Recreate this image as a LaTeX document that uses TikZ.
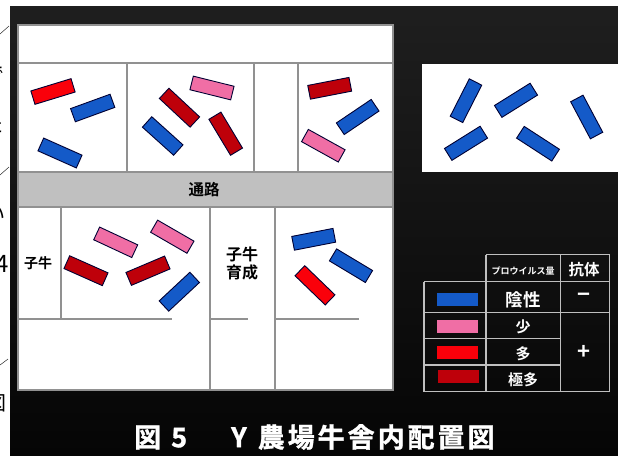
\documentclass[tikz,border=0pt]{standalone}
\usepackage{fontspec}
\newfontfamily\cjk[BoldFont={Noto Sans CJK JP Bold}]{Noto Sans CJK JP}
\usetikzlibrary{calc}
\definecolor{cowblue}{RGB}{20,90,200}
\definecolor{cowpink}{RGB}{240,110,165}
\definecolor{cowred}{RGB}{250,0,10}
\definecolor{cowdark}{RGB}{190,0,10}
\definecolor{wallgrey}{RGB}{145,145,145}
\definecolor{aislegrey}{RGB}{192,192,192}
\tikzset{
	cow/.style={draw=black!80!blue, line width=0.9pt, minimum width=42pt, minimum height=14pt, inner sep=0pt},
	wall/.style={draw=wallgrey, line width=2pt},
	grid/.style={draw=white!75!black, line width=1.3pt},
	swatch/.style={minimum width=41pt, minimum height=13pt, inner sep=0pt},
	lbl/.style={font=\cjk\bfseries, inner sep=0pt, text=black},
	cell/.style={font=\cjk\bfseries, inner sep=0pt, text=white},
	scrap/.style={font=\cjk, inner sep=0pt, text=black, anchor=east}
}
\begin{document}
\begin{tikzpicture}[x=1pt, y=-1pt]
	\useasboundingbox (0,0) rectangle (618,455);
	\fill[white] (0,0) rectangle (618,455);

	% page behind the slide
	\begin{scope}
	\clip (0,0) rectangle (10,455);
	\node[scrap, font=\cjk\fontsize{20}{20}\selectfont] (p1) at (5,75) {で};
	\node[scrap, font=\cjk\fontsize{20}{20}\selectfont] (p2) at (4,125) {た};
	\node[scrap, font=\cjk\fontsize{20}{20}\selectfont] (p3) at (6,215) {い};
	\node[scrap, font=\cjk\fontsize{24}{24}\selectfont] (p4) at (9,264) {4};
	\node[scrap, font=\cjk\fontsize{20}{20}\selectfont] (p5) at (7,403) {図};
	\coordinate (q1) at (0,34);
	\coordinate (q2) at (9,26);
	\coordinate (q3) at (0,175);
	\coordinate (q4) at (9,167);
	\coordinate (q5) at (0,365);
	\coordinate (q6) at (8,359);
	\draw[thin] (q1)--(q2);
	\draw[thin] (q3)--(q4);
	\draw[thin] (q5)--(q6);
	\end{scope}

	\shade[top color=black!88, bottom color=black!98] (10,6) rectangle (618,455);

	% barn
	\coordinate (TL) at (18,24.5);
	\coordinate (BR) at (393,390);
	\fill[white] (TL) rectangle (BR);
	\fill[aislegrey] (18,172) rectangle (393,207);
	\draw[wall] (TL) rectangle (BR);
	\draw[wall] (18,62.5)--(393,62.5);
	\draw[wall] (18,172)--(393,172);
	\draw[wall] (18,207)--(393,207);
	\draw[wall] (127,62.5)--(127,172);
	\draw[wall] (254,62.5)--(254,172);
	\draw[wall] (297.5,62.5)--(297.5,172);
	\draw[wall] (61,207)--(61,318.5);
	\draw[wall] (209.5,207)--(209.5,390);
	\draw[wall] (274.5,207)--(274.5,390);
	\draw[wall] (18,318.5)--(172,318.5);
	\draw[wall] (209.5,318.5)--(248,318.5);
	\draw[wall] (274.5,318.5)--(359,318.5);

	\node[lbl, font=\cjk\bfseries\fontsize{15.5}{15.5}\selectfont] (aisle) at (204,190) {通路};
	\node[lbl, font=\cjk\bfseries\fontsize{14}{14}\selectfont] (calf) at (38,263) {子牛};
	\node[lbl, font=\cjk\bfseries\fontsize{16}{18}\selectfont, align=center] (rearing) at (242,263.5) {子牛\\育成};

	% upper pens
	\node[cow, fill=cowred, rotate=17] (c1) at (53,91.5) {};
	\node[cow, fill=cowblue, rotate=20] (c2) at (92.7,108) {};
	\node[cow, fill=cowblue, rotate=-24] (c3) at (60,153) {};
	\node[cow, fill=cowdark, rotate=-43] (c4) at (179.5,107.7) {};
	\node[cow, fill=cowblue, rotate=-42] (c5) at (162.7,136) {};
	\node[cow, fill=cowpink, rotate=-14] (c6) at (212,88) {};
	\node[cow, fill=cowdark, rotate=-59] (c7) at (225.7,133.7) {};
	\node[cow, fill=cowdark, rotate=11] (c8) at (329.7,88.3) {};
	\node[cow, fill=cowblue, rotate=34] (c9) at (357.7,117) {};
	\node[cow, fill=cowpink, rotate=-29] (c10) at (323.3,145.7) {};

	% lower pens
	\node[cow, fill=cowpink, rotate=-25] (c11) at (115.7,242.3) {};
	\node[cow, fill=cowpink, rotate=-30] (c12) at (172.3,236.7) {};
	\node[cow, fill=cowdark, rotate=-24] (c13) at (86,270.7) {};
	\node[cow, fill=cowdark, rotate=23] (c14) at (148,270.7) {};
	\node[cow, fill=cowblue, rotate=43] (c15) at (179.3,291.7) {};
	\node[cow, fill=cowblue, rotate=11] (c16) at (313.7,239.3) {};
	\node[cow, fill=cowblue, rotate=-31] (c17) at (351,265.7) {};
	\node[cow, fill=cowred, rotate=-44] (c18) at (315,285.3) {};

	% side panel
	\fill[white] (422,64) rectangle (618,172);
	\node[cow, fill=cowblue, rotate=63] (s1) at (466,100.7) {};
	\node[cow, fill=cowblue, rotate=32] (s2) at (516,100.3) {};
	\node[cow, fill=cowblue, rotate=-62] (s3) at (586.7,117) {};
	\node[cow, fill=cowblue, rotate=32] (s4) at (466,143.3) {};
	\node[cow, fill=cowblue, rotate=-33] (s5) at (538,143.7) {};

	% legend
	\draw[grid] (486,254.7)--(609.5,254.7);
	\draw[grid] (424,281.7)--(609.5,281.7);
	\draw[grid] (424,312.3)--(609.5,312.3);
	\draw[grid] (424,338.3)--(560.7,338.3);
	\draw[grid] (424,365)--(560.7,365);
	\draw[grid] (424,391.7)--(609.5,391.7);
	\draw[grid] (424,281.7)--(424,391.7);
	\draw[grid] (486,254.7)--(486,391.7);
	\draw[grid] (560.7,254.7)--(560.7,391.7);
	\draw[grid] (609.5,254.7)--(609.5,391.7);
	\node[swatch, fill=cowblue] (k1) at (457.2,299.3) {};
	\node[swatch, fill=cowpink] (k2) at (457.2,326) {};
	\node[swatch, fill=cowred] (k3) at (457.2,352) {};
	\node[swatch, fill=cowdark] (k4) at (458,376.3) {};
	\node[cell, font=\cjk\bfseries\fontsize{9}{9}\selectfont] (hv) at (523,271) {プロウイルス量};
	\node[cell, font=\cjk\bfseries\fontsize{15.5}{15.5}\selectfont] (ha) at (584,270) {抗体};
	\node[cell, font=\cjk\bfseries\fontsize{17.5}{17.5}\selectfont] (v1) at (523,299.5) {陰性};
	\node[cell, font=\cjk\bfseries\fontsize{15}{15}\selectfont] (v2) at (523,327) {少};
	\node[cell, font=\cjk\bfseries\fontsize{15}{15}\selectfont] (v3) at (523,354) {多};
	\node[cell, font=\cjk\bfseries\fontsize{15}{15}\selectfont] (v4) at (523,380) {極多};
	\node[cell, font=\cjk\bfseries\fontsize{22}{22}\selectfont] (a1) at (584,298) {−};
	\node[cell, font=\cjk\bfseries\fontsize{22}{22}\selectfont] (a2) at (584,352) {+};

	% title
	\node[cell, anchor=west, font=\cjk\bfseries\fontsize{27}{27}\selectfont\addfontfeature{LetterSpace=11,FakeBold=1.2}] (title) at (134,437) {図\hspace{10pt}5\hspace{44pt}Y\hspace{11pt}農場牛舎内配置図};
\end{tikzpicture}
\end{document}
